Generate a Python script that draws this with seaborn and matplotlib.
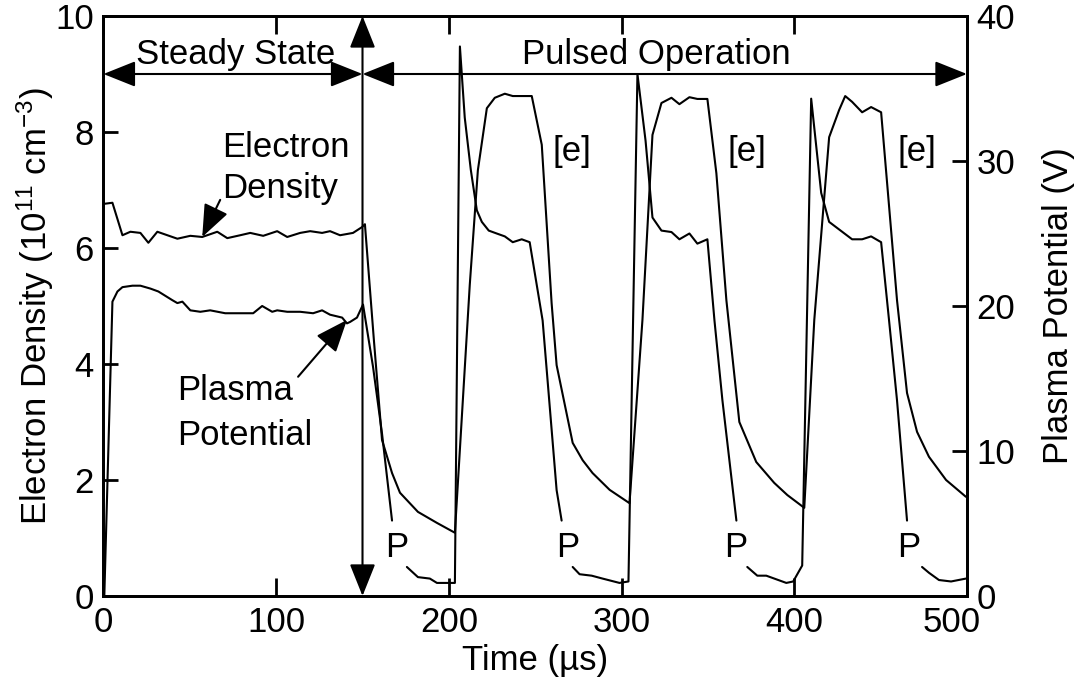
import numpy as np
import pandas as pd
import matplotlib
matplotlib.use("Agg")
import matplotlib.pyplot as plt
import seaborn as sns

# Electron density (1e11 cm^-3) versus time (us)
t_density = [0, 5.2, 11.0, 15.6, 21.4, 26.0, 31.2, 37.0, 42.8, 50.3, 57.2, 65.9, 71.7,
             79.2, 85.0, 92.5, 100.6, 106.4, 113.9, 119.7, 126.6, 131.2, 137.0, 144.5,
             149.7, 151.4,
             156.6, 161.3, 167.1, 171.7, 182.1, 193.1, 203.5,
             212.1, 216.8, 222.0, 226.6, 232.4, 237.0, 248.0, 253.8, 259.5, 262.4,
             271.7, 277.5, 283.2, 293.1, 304.6,
             312.1, 317.9, 323.1, 328.9, 333.5, 339.3, 343.9, 349.7, 354.9, 360.7,
             368.2, 378.0, 388.4, 396.0, 405.8,
             411.6, 420.2, 426.0, 429.5, 433.5, 439.3, 444.5, 450.3, 459.5, 465.3,
             471.1, 478.0, 487.9, 499.4]
density = [6.76, 6.78, 6.22, 6.28, 6.26, 6.09, 6.28, 6.22, 6.16, 6.21, 6.19, 6.28, 6.17,
           6.22, 6.26, 6.21, 6.29, 6.19, 6.26, 6.29, 6.26, 6.29, 6.22, 6.26,
           6.36, 6.41,
           4.41, 2.69, 2.12, 1.78, 1.45, 1.26, 1.09,
           5.36, 7.34, 8.41, 8.59, 8.66, 8.62, 8.62, 7.78, 5.05, 3.98,
           2.64, 2.34, 2.12, 1.83, 1.60,
           4.76, 7.95, 8.50, 8.59, 8.48, 8.60, 8.57, 8.57, 7.29, 5.10,
           3.00, 2.31, 1.95, 1.74, 1.52,
           4.76, 7.91, 8.38, 8.62, 8.52, 8.34, 8.43, 8.34, 5.10, 3.50,
           2.83, 2.40, 2.00, 1.71]

# Plasma potential (V) versus time (us); NaN marks where the trace is broken by a "P" label
t_potential = [0.5, 5.2, 8.1, 11.0, 16.8, 21.4, 27.2, 31.8, 39.9, 42.8, 45.7, 50.3, 56.1,
               61.8, 70.5, 86.7, 91.9, 97.7, 100.6, 106.4, 113.9, 121.4, 126.6, 131.2,
               138.2, 141.0, 142.8, 146.8, 150.3, 156.1, 161.3, 167.1, np.nan,
               175.7, 182.1, 189.0, 193.1, 198.8, 203.5, 206.4, 209.2, 212.7, 216.2,
               219.1, 223.1, 227.7, 232.4, 237.0, 242.2, 246.8, 254.3, 262.4, 265.3, np.nan,
               271.7, 275.7, 282.7, 289.0, 298.8, 304.0, 309.2, 313.9, 317.9, 323.1,
               328.9, 333.5, 339.3, 343.9, 349.7, 353.8, 358.4, 366.5, np.nan,
               372.8, 378.6, 383.8, 395.4, 399.4, 404.6, 409.8, 415.6, 420.2, 433.5,
               439.3, 444.5, 450.3, 454.9, 459.5, 465.3, np.nan,
               474.0, 478.0, 483.8, 490.8, 499.4]
potential = [0.0, 20.3, 21.0, 21.3, 21.4, 21.4, 21.2, 21.0, 20.4, 20.2, 20.3, 19.7, 19.6,
             19.7, 19.5, 19.5, 20.0, 19.6, 19.7, 19.6, 19.6, 19.5, 19.7, 19.4,
             19.2, 18.8, 18.9, 19.2, 20.1, 15.8, 11.2, 5.2, np.nan,
             2.0, 1.3, 1.2, 0.9, 0.9, 0.9, 37.9, 33.0, 29.4, 26.6,
             25.8, 25.2, 25.0, 24.8, 24.4, 24.6, 24.4, 19.0, 7.3, 5.2, np.nan,
             2.0, 1.5, 1.4, 1.2, 0.9, 1.0, 36.0, 31.4, 26.1, 25.2,
             25.1, 24.6, 25.0, 24.3, 24.6, 19.0, 13.5, 5.2, np.nan,
             2.0, 1.4, 1.4, 0.9, 1.0, 2.1, 34.3, 27.8, 25.8, 24.6,
             24.6, 24.8, 24.4, 19.0, 13.5, 5.2, np.nan,
             2.0, 1.6, 1.1, 1.0, 1.2]

time_ticks = [0, 100, 200, 300, 400, 500]
density_ticks = [0, 2, 4, 6, 8, 10]
potential_ticks = [0, 10, 20, 30, 40]

# Text labels on the curves
e_label_x = [271.1, 372.8, 471.1]
p_label_x = [170.0, 268.8, 365.9, 466.5]

sns.set_style("ticks")
plt.rcParams["font.family"] = ["Liberation Sans", "DejaVu Sans"]
plt.rcParams["mathtext.fontset"] = "custom"
plt.rcParams["mathtext.rm"] = "Liberation Sans"
plt.rcParams["mathtext.it"] = "Liberation Sans:italic"
plt.rcParams["mathtext.default"] = "regular"
plt.rcParams["text.color"] = "black"
plt.rcParams["axes.labelcolor"] = "black"

FS = 25
LW = 1.5
XPAD = 7

fig = plt.figure(figsize=(10.81, 6.87), dpi=100)
ax = fig.add_axes([0.0957, 0.1325, 0.7988, 0.8442])
ax2 = ax.twinx()

dens_df = pd.DataFrame({"t": t_density, "n": density})
sns.lineplot(data=dens_df, x="t", y="n", ax=ax, color="black", lw=LW,
             sort=False, estimator=None)

pot_df = pd.DataFrame({"t": t_potential, "v": potential})
pot_df["trace"] = pot_df["v"].isna().cumsum()
pot_df = pot_df.dropna()
sns.lineplot(data=pot_df, x="t", y="v", units="trace", estimator=None, ax=ax2,
             color="black", lw=LW, sort=False)

ax.set_xlim(0, 500)
ax.set_ylim(0, 10)
ax2.set_ylim(0, 40)
# the last time label is drawn separately, shifted left to clear the right-hand "0"
ax.set_xticks(time_ticks, labels=[str(t) for t in time_ticks[:-1]] + [""])
ax.set_yticks(density_ticks)
ax2.set_yticks(potential_ticks)

for a in (ax, ax2):
    for s in a.spines.values():
        s.set_visible(True)
        s.set_linewidth(2)
        s.set_color("black")

ax.tick_params(axis="both", direction="in", width=2, labelsize=FS, colors="black",
               top=True, right=False)
ax.tick_params(axis="x", length=13, pad=XPAD)
ax.tick_params(axis="y", length=11, pad=7)
ax2.tick_params(axis="y", direction="in", width=2, length=11, labelsize=FS, pad=7,
                colors="black")

ax.annotate(str(time_ticks[-1]), xy=(time_ticks[-1], 0),
            xycoords=("data", "axes fraction"), xytext=(-11, -XPAD),
            textcoords="offset points", ha="center", va="top", fontsize=FS,
            annotation_clip=False)

ax.set_xlabel("Time (\u00b5s)", fontsize=FS, labelpad=4)
ax.set_ylabel(r"Electron Density (10$^{11}$ cm$^{-3}$)", fontsize=FS, labelpad=-1)
ax2.set_ylabel("Plasma Potential (V)", fontsize=FS, labelpad=19)

# Region arrows
double = dict(arrowstyle="<|-|>,head_length=1.0,head_width=0.4", color="black",
              lw=LW, shrinkA=0, shrinkB=0, mutation_scale=20)
single = dict(arrowstyle="-|>,head_length=1.0,head_width=0.4", color="black",
              lw=LW, shrinkA=0, shrinkB=0, mutation_scale=20)
ax.annotate("", xy=(0, 9), xytext=(150, 9), arrowprops=double, annotation_clip=False)
ax.annotate("", xy=(150, 9), xytext=(500, 9), arrowprops=double, annotation_clip=False)
ax.annotate("", xy=(150, 0), xytext=(150, 10), arrowprops=double, annotation_clip=False)
ax.text(76.3, 9.17, "Steady State", ha="center", va="baseline", fontsize=FS)
ax.text(320, 9.17, "Pulsed Operation", ha="center", va="baseline", fontsize=FS)

# Curve call-outs
ax.text(68.5, 7.57, "Electron", ha="left", va="baseline", fontsize=FS)
ax.text(68.5, 6.86, "Density", ha="left", va="baseline", fontsize=FS)
ax.annotate("", xy=(57.2, 6.19), xytext=(67.6, 6.83), arrowprops=single)
ax.text(42.8, 3.38, "Plasma", ha="left", va="baseline", fontsize=FS)
ax.text(42.8, 2.60, "Potential", ha="left", va="baseline", fontsize=FS)
ax.annotate("", xy=(141.0, 4.76), xytext=(112.7, 3.78), arrowprops=single)

for x in e_label_x:
    ax.text(x, 7.5, "[e]", ha="center", va="baseline", fontsize=FS)
for x in p_label_x:
    ax.text(x, 0.67, "P", ha="center", va="baseline", fontsize=FS)

fig.savefig("out.png", dpi=100, facecolor="white")
